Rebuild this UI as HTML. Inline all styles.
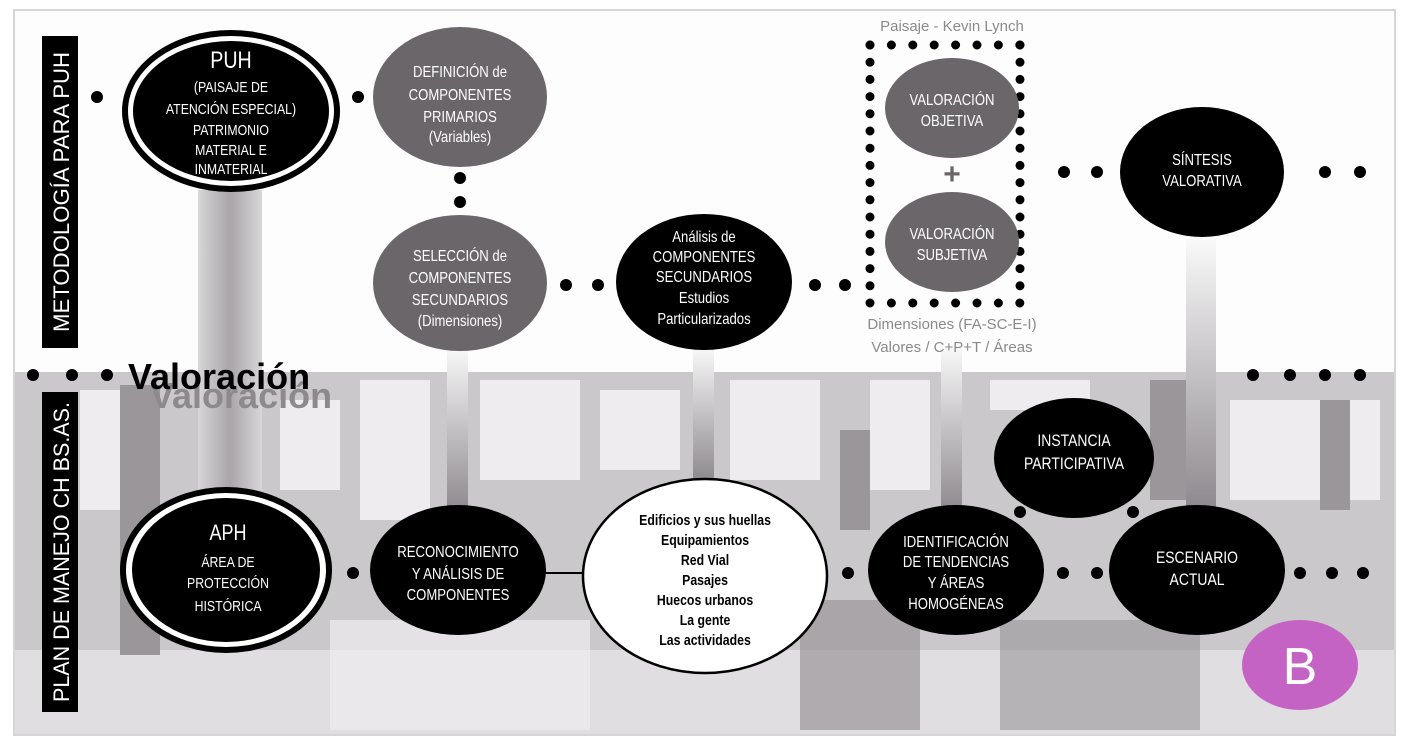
<!DOCTYPE html>
<html><head><meta charset="utf-8"><style>
html,body{margin:0;padding:0;background:#fff;}
svg{display:block;}
text{font-family:"Liberation Sans",sans-serif;}
.n text{transform-box:fill-box;transform-origin:center;transform:scaleX(0.82);}
</style></head><body>
<svg width="1412" height="745" viewBox="0 0 1412 745" xmlns="http://www.w3.org/2000/svg">
<defs>
<linearGradient id="bar" x1="0" y1="0" x2="0" y2="1">
<stop offset="0" stop-color="#fafafa"/><stop offset="1" stop-color="#8f8a8f"/>
</linearGradient>
<linearGradient id="barh" x1="0" y1="0" x2="1" y2="0">
<stop offset="0" stop-color="#d8d6d8"/><stop offset="0.5" stop-color="#a9a5a9"/><stop offset="1" stop-color="#d8d6d8"/>
</linearGradient>
</defs>
<rect x="0" y="0" width="1412" height="745" fill="#fff"/>
<rect x="14" y="10" width="1381" height="725" fill="#fdfdfd" stroke="#d6d6d6" stroke-width="2"/>
<rect x="15" y="372" width="1379" height="362" fill="#cbc8cb"/>
<g fill="#eeecee">
<rect x="80" y="390" width="40" height="120"/><rect x="280" y="400" width="60" height="90"/>
<rect x="360" y="380" width="70" height="140"/><rect x="480" y="380" width="100" height="100"/>
<rect x="600" y="390" width="80" height="80"/><rect x="730" y="380" width="90" height="100"/>
<rect x="870" y="380" width="60" height="110"/><rect x="990" y="380" width="100" height="30"/>
<rect x="1230" y="400" width="150" height="100"/><rect x="15" y="650" width="1379" height="84" opacity="0.6"/>
<rect x="330" y="620" width="260" height="110" opacity="0.7"/>
</g>
<g fill="#9a969a">
<rect x="120" y="385" width="40" height="270"/><rect x="840" y="430" width="30" height="100"/>
<rect x="1150" y="380" width="40" height="120"/><rect x="1320" y="400" width="30" height="110"/>
<rect x="800" y="600" width="120" height="130" opacity="0.7"/><rect x="1000" y="620" width="200" height="110" opacity="0.6"/>
</g>
<rect x="198" y="190" width="64" height="300" fill="url(#barh)"/>
<rect x="447" y="345" width="21" height="165" fill="url(#bar)"/>
<rect x="693" y="345" width="21" height="135" fill="url(#bar)"/>
<rect x="941" y="345" width="21" height="165" fill="url(#bar)"/>
<rect x="1186" y="237" width="30" height="270" fill="url(#bar)"/>
<rect x="42" y="36" width="36" height="312" fill="#000"/>
<text transform="translate(69,192) rotate(-90)" text-anchor="middle" fill="#fff" font-size="22" textLength="280" lengthAdjust="spacingAndGlyphs">METODOLOGÍA PARA PUH</text>
<rect x="42" y="392" width="36" height="320" fill="#000"/>
<text transform="translate(69,552) rotate(-90)" text-anchor="middle" fill="#fff" font-size="22" textLength="300" lengthAdjust="spacingAndGlyphs">PLAN DE MANEJO CH BS.AS.</text>
<g fill="#000">
<circle cx="97" cy="97" r="6"/><circle cx="358" cy="97" r="6"/>
<circle cx="460" cy="178" r="6"/><circle cx="460" cy="202" r="6"/>
<circle cx="566" cy="285" r="6"/><circle cx="598" cy="285" r="6"/>
<circle cx="815" cy="285" r="6"/><circle cx="845" cy="285" r="6"/>
<circle cx="1064" cy="172" r="6"/><circle cx="1097" cy="172" r="6"/>
<circle cx="1325" cy="172" r="6"/><circle cx="1360" cy="172" r="6"/>
<circle cx="33" cy="375" r="6"/><circle cx="72" cy="375" r="6"/><circle cx="107" cy="375" r="6"/>
<circle cx="1253" cy="375" r="6"/><circle cx="1290" cy="375" r="6"/><circle cx="1325" cy="375" r="6"/><circle cx="1360" cy="375" r="6"/>
<circle cx="353" cy="573" r="6"/><circle cx="848" cy="573" r="6"/>
<circle cx="1020" cy="512" r="6"/><circle cx="1133" cy="512" r="6"/>
<circle cx="1063" cy="573" r="6"/><circle cx="1097" cy="573" r="6"/>
<circle cx="1300" cy="573" r="6"/><circle cx="1332" cy="573" r="6"/><circle cx="1363" cy="573" r="6"/>
</g>
<g stroke="#000" stroke-width="9" stroke-linecap="round" stroke-dasharray="0 21.4" fill="none">
<line x1="870" y1="45" x2="1020" y2="45"/><line x1="870" y1="303" x2="1020" y2="303"/>
</g>
<g stroke="#000" stroke-width="9" stroke-linecap="round" stroke-dasharray="0 17.2" fill="none">
<line x1="870" y1="45" x2="870" y2="303"/><line x1="1020" y1="45" x2="1020" y2="303"/>
</g>
<text x="952" y="31" text-anchor="middle" fill="#8a8a8a" font-size="15">Paisaje - Kevin Lynch</text>
<text x="952" y="329" text-anchor="middle" fill="#8a8a8a" font-size="15">Dimensiones (FA-SC-E-I)</text>
<text x="952" y="352" text-anchor="middle" fill="#8a8a8a" font-size="15">Valores / C+P+T / Áreas</text>
<line x1="545" y1="573" x2="582" y2="573" stroke="#000" stroke-width="2"/>
<g class="n">
<ellipse cx="231" cy="111" rx="109" ry="81" fill="#000"/>
<ellipse cx="231" cy="111" rx="103" ry="75" fill="#fff"/>
<ellipse cx="231" cy="111" rx="98" ry="70" fill="#000"/>
<g fill="#fff" text-anchor="middle" font-size="15">
<text x="231" y="68" font-size="24">PUH</text>
<text x="231" y="92">(PAISAJE DE</text><text x="231" y="114">ATENCIÓN ESPECIAL)</text>
<text x="231" y="135">PATRIMONIO</text><text x="231" y="155">MATERIAL E</text><text x="231" y="174">INMATERIAL</text>
</g>
<ellipse cx="460" cy="97" rx="87" ry="70" fill="#6b6669"/>
<g fill="#fff" text-anchor="middle" font-size="16">
<text x="460" y="77">DEFINICIÓN de</text><text x="460" y="100">COMPONENTES</text><text x="460" y="122">PRIMARIOS</text><text x="460" y="142">(Variables)</text>
</g>
<ellipse cx="460" cy="283" rx="87" ry="68" fill="#6b6669"/>
<g fill="#fff" text-anchor="middle" font-size="16">
<text x="460" y="261">SELECCIÓN de</text><text x="460" y="283">COMPONENTES</text><text x="460" y="305">SECUNDARIOS</text><text x="460" y="326">(Dimensiones)</text>
</g>
<ellipse cx="704" cy="282" rx="88" ry="68" fill="#000"/>
<g fill="#fff" text-anchor="middle" font-size="16">
<text x="704" y="242">Análisis de</text><text x="704" y="262">COMPONENTES</text><text x="704" y="282">SECUNDARIOS</text><text x="704" y="303">Estudios</text><text x="704" y="324">Particularizados</text>
</g>
<ellipse cx="952" cy="108" rx="67" ry="50" fill="#6b6669"/>
<g fill="#fff" text-anchor="middle" font-size="16">
<text x="952" y="105">VALORACIÓN</text><text x="952" y="126">OBJETIVA</text>
</g>
<ellipse cx="952" cy="242" rx="67" ry="50" fill="#6b6669"/>
<g fill="#fff" text-anchor="middle" font-size="16">
<text x="952" y="239">VALORACIÓN</text><text x="952" y="260">SUBJETIVA</text>
</g>
<ellipse cx="1202" cy="172" rx="82" ry="65" fill="#000"/>
<g fill="#fff" text-anchor="middle" font-size="16">
<text x="1202" y="165">SÍNTESIS</text><text x="1202" y="186">VALORATIVA</text>
</g>
<ellipse cx="226" cy="570" rx="106" ry="83" fill="#000"/>
<ellipse cx="226" cy="570" rx="100" ry="77" fill="#fff"/>
<ellipse cx="226" cy="570" rx="94" ry="72" fill="#000"/>
<g fill="#fff" text-anchor="middle" font-size="15">
<text x="228" y="540" font-size="22">APH</text>
<text x="228" y="567">ÁREA DE</text><text x="228" y="588">PROTECCIÓN</text><text x="228" y="611">HISTÓRICA</text>
</g>
<ellipse cx="458" cy="570" rx="88" ry="65" fill="#000"/>
<g fill="#fff" text-anchor="middle" font-size="16">
<text x="458" y="557">RECONOCIMIENTO</text><text x="458" y="579">Y ANÁLISIS DE</text><text x="458" y="600">COMPONENTES</text>
</g>
<ellipse cx="705" cy="576" rx="122" ry="97" fill="#fff" stroke="#000" stroke-width="2.5"/>
<g fill="#000" text-anchor="middle" font-size="15" font-weight="bold">
<text x="705" y="525">Edificios y sus huellas</text><text x="705" y="545">Equipamientos</text><text x="705" y="565">Red Vial</text>
<text x="705" y="585">Pasajes</text><text x="705" y="605">Huecos urbanos</text><text x="705" y="625">La gente</text><text x="705" y="645">Las actividades</text>
</g>
<ellipse cx="956" cy="570" rx="88" ry="65" fill="#000"/>
<g fill="#fff" text-anchor="middle" font-size="16">
<text x="956" y="547">IDENTIFICACIÓN</text><text x="956" y="567">DE TENDENCIAS</text><text x="956" y="588">Y ÁREAS</text><text x="956" y="609">HOMOGÉNEAS</text>
</g>
<ellipse cx="1074" cy="458" rx="80" ry="60" fill="#000"/>
<g fill="#fff" text-anchor="middle" font-size="17">
<text x="1074" y="446">INSTANCIA</text><text x="1074" y="469">PARTICIPATIVA</text>
</g>
<ellipse cx="1197" cy="570" rx="88" ry="65" fill="#000"/>
<g fill="#fff" text-anchor="middle" font-size="17">
<text x="1197" y="563">ESCENARIO</text><text x="1197" y="585">ACTUAL</text>
</g>
</g>
<text x="952" y="184" text-anchor="middle" fill="#6b6669" font-size="30" font-weight="bold">+</text>
<text x="150" y="408" fill="#8d898d" font-size="36" font-weight="bold">Valoración</text>
<text x="128" y="389" fill="#000" font-size="36" font-weight="bold">Valoración</text>
<ellipse cx="1300" cy="665" rx="58" ry="45" fill="#c463c4"/>
<text x="1300" y="684" text-anchor="middle" fill="#fff" font-size="52">B</text>
</svg>
</body></html>
